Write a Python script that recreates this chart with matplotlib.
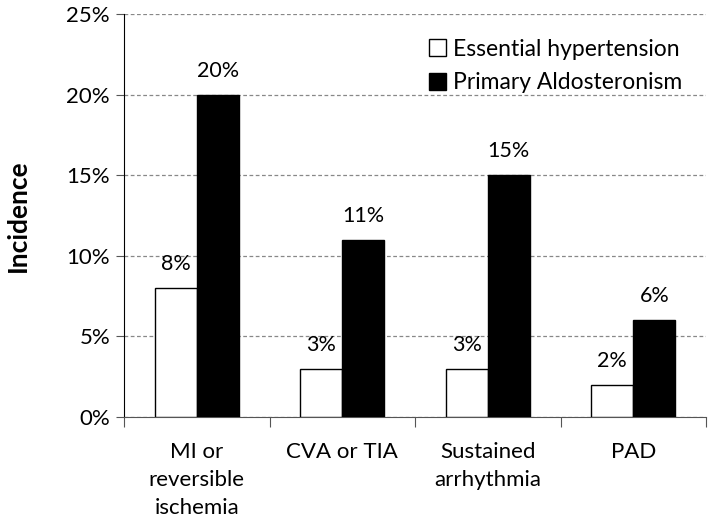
import matplotlib
matplotlib.use("Agg")
import matplotlib.pyplot as plt
import numpy as np
from matplotlib.ticker import PercentFormatter

categories = ["MI or\nreversible\nischemia", "CVA or TIA", "Sustained\narrhythmia", "PAD"]
essential = [8, 3, 3, 2]
aldosteronism = [20, 11, 15, 6]
yticks = [0, 5, 10, 15, 20, 25]

plt.rcParams['font.family'] = ['Lato', 'DejaVu Sans']

fig = plt.figure(figsize=(7.12, 5.25), dpi=100)
ax = fig.add_axes([124/712, 108/525, 582/712, 403/525])

x = np.arange(len(categories))
w = 0.29
b1 = ax.bar(x - w/2, essential, w, color='white', edgecolor='black', linewidth=1,
            label='Essential hypertension', zorder=3)
b2 = ax.bar(x + w/2, aldosteronism, w, color='black', edgecolor='black', linewidth=1,
            label='Primary Aldosteronism', zorder=3)

for bars, vals in ((b1, essential), (b2, aldosteronism)):
    for r, v in zip(bars, vals):
        ax.annotate(f"{v}%", (r.get_x() + r.get_width()/2, v), xytext=(0, 10),
                    textcoords='offset points', ha='center', va='bottom', fontsize=15.5)

ax.set_xlim(-0.5, len(categories) - 0.5)
ax.set_ylim(0, 25)
ax.set_yticks(yticks)
ax.yaxis.set_major_formatter(PercentFormatter(decimals=0))
ax.set_xticks(np.arange(len(categories) + 1) - 0.5)
ax.set_xticklabels([])
ax.set_xticks(x, minor=True)
ax.set_xticklabels(categories, minor=True, fontsize=16, linespacing=1.5)
ax.tick_params(axis='x', which='minor', length=0, pad=18)
ax.tick_params(axis='x', which='major', length=7, direction='out', color='#555555')
ax.tick_params(axis='y', length=6, direction='out', labelsize=16, color='#555555', pad=4)

ax.grid(axis='y', linestyle=(0, (3, 2)), color='#888888', linewidth=0.9, zorder=0)
for s in ['top', 'right']:
    ax.spines[s].set_visible(False)
ax.spines['left'].set_color('black')
ax.spines['bottom'].set_color('#555555')

ax.set_ylabel('Incidence', fontsize=19, fontweight='bold', labelpad=26)

ax.legend(loc='upper right', bbox_to_anchor=(0.995, 0.99), frameon=False, fontsize=16.5,
          handlelength=0.75, handleheight=0.75, handletextpad=0.3, labelspacing=0.55)

fig.savefig('out.png', dpi=100)
